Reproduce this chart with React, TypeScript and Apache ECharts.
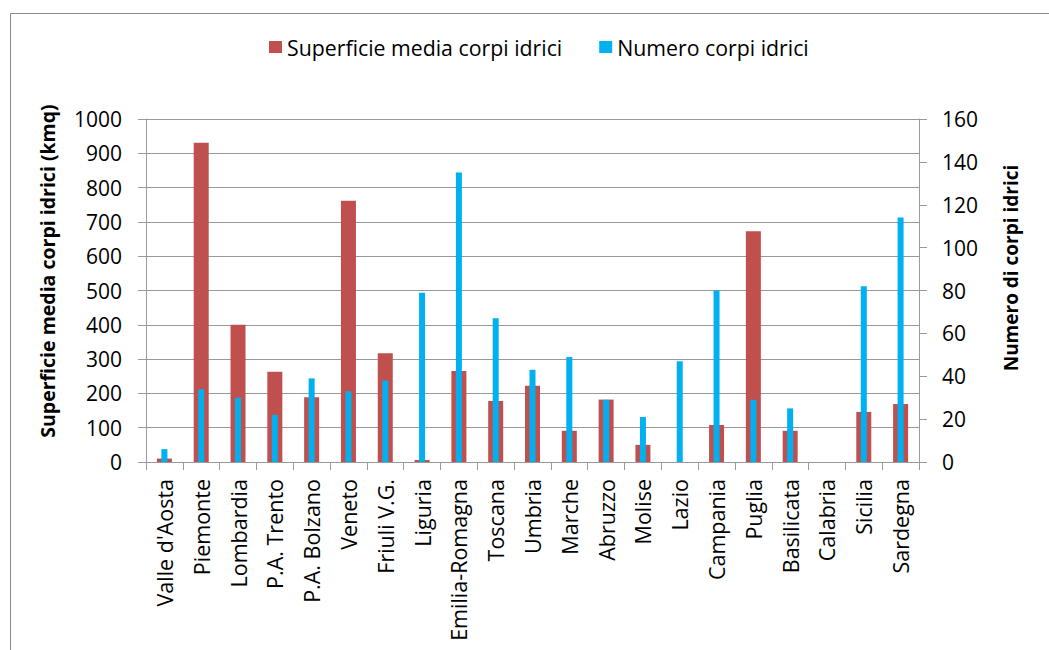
import React, { useEffect, useRef } from "react";
import * as echarts from "echarts";

const regions = [
  "Valle d'Aosta", "Piemonte", "Lombardia", "P.A. Trento", "P.A. Bolzano", "Veneto",
  "Friuli V.G.", "Liguria", "Emilia-Romagna", "Toscana", "Umbria", "Marche", "Abruzzo",
  "Molise", "Lazio", "Campania", "Puglia", "Basilicata", "Calabria", "Sicilia", "Sardegna",
];
const superficieMedia = [10, 931, 400, 263, 189, 762, 317, 6, 265, 178, 222, 91, 182, 50, 0, 108, 673, 91, 0, 146, 169];
const numeroCorpi = [6, 34, 30, 22, 39, 33, 38, 79, 135, 67, 43, 49, 29, 21, 47, 80, 29, 25, 0, 82, 114];

const seriesNames = ["Superficie media corpi idrici", "Numero corpi idrici"];
const leftTitle = "Superficie media corpi idrici (kmq)";
const rightTitle = "Numero di corpi idrici";

const FONT = "'Open Sans', sans-serif";

export default function App() {
  const ref = useRef<HTMLDivElement>(null);
  useEffect(() => {
    if (!ref.current) return;
    const chart = echarts.init(ref.current, null, { renderer: "svg" });
    const axisGray = "#9a9a9a";
    chart.setOption({
      animation: false,
      backgroundColor: "#ffffff",
      textStyle: { fontFamily: FONT },
      grid: { left: 146, right: 130, top: 119, bottom: 188, containLabel: false },
      legend: {
        left: 264,
        top: 30,
        itemWidth: 13,
        itemHeight: 12,
        itemGap: 37,
        icon: "rect",
        textStyle: { fontFamily: FONT, fontSize: 21.3, color: "#000", lineHeight: 24 },
        data: seriesNames,
      },
      xAxis: [
        {
          type: "category",
          data: regions,
          axisLine: { show: true, lineStyle: { color: axisGray } },
          axisTick: { show: true, length: 8, lineStyle: { color: axisGray } },
          axisLabel: { rotate: 90, margin: 17, fontSize: 21.5, color: "#000", fontFamily: FONT, interval: 0 },
        },
        {
          type: "category",
          data: regions,
          show: false,
        },
      ],
      yAxis: [
        {
          type: "value",
          min: 0,
          max: 1000,
          interval: 100,
          axisLine: { show: true, lineStyle: { color: axisGray } },
          axisTick: { show: true, length: 8, lineStyle: { color: axisGray } },
          axisLabel: { margin: 24, fontSize: 21, color: "#000", fontFamily: FONT, formatter: (v: number) => String(v) },
          splitLine: { show: true, lineStyle: { color: "#999", width: 1 } },
        },
        {
          type: "value",
          min: 0,
          max: 160,
          interval: 20,
          position: "right",
          axisLine: { show: true, lineStyle: { color: axisGray } },
          axisTick: { show: true, length: 8, lineStyle: { color: axisGray } },
          axisLabel: { margin: 23, fontSize: 21, color: "#000", fontFamily: FONT, formatter: (v: number) => String(v) },
          splitLine: { show: false },
        },
      ],
      series: [
        {
          name: seriesNames[0],
          type: "bar",
          xAxisIndex: 0,
          yAxisIndex: 0,
          barWidth: 15,
          itemStyle: { color: "#C0504D" },
          data: superficieMedia,
        },
        {
          name: seriesNames[1],
          type: "bar",
          xAxisIndex: 1,
          yAxisIndex: 1,
          barWidth: 6,
          itemStyle: { color: "#00B0F0" },
          data: numeroCorpi,
        },
      ],
      graphic: [
        {
          type: "rect",
          shape: { x: 10.5, y: 13.5, width: 1100, height: 700 },
          style: { fill: "none", stroke: "#8a8a8a", lineWidth: 1 },
          silent: true,
          z: -10,
        },
        {
          type: "text",
          x: 47,
          y: 271,
          rotation: Math.PI / 2,
          style: {
            text: leftTitle,
            fontFamily: FONT,
            fontSize: 19.5,
            fontWeight: "bold",
            fill: "#000",
            align: "center",
            verticalAlign: "middle",
          },
        },
        {
          type: "text",
          x: 1011,
          y: 268,
          rotation: Math.PI / 2,
          style: {
            text: rightTitle,
            fontFamily: FONT,
            fontSize: 19,
            fontWeight: "bold",
            fill: "#000",
            align: "center",
            verticalAlign: "middle",
          },
        },
      ],
    });
    return () => chart.dispose();
  }, []);
  return (
    <div
      ref={ref}
      style={{ position: "fixed", left: 0, top: 0, width: 1049, height: 650, background: "#fff" }}
    />
  );
}
